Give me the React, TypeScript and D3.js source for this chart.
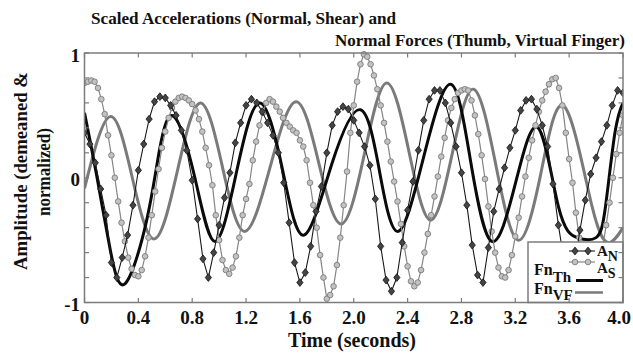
import React from 'react';
import * as d3 from 'd3';

// Sampled accelerations (demeaned & normalized)
const AN_STEP = 0.04; // seconds between A_N samples
const accelNormal = [
  0.36, 0.27, 0.12, -0.09, -0.3, -0.68, -0.8, -0.64, -0.46, -0.22, 0.06, 0.27, 0.47, 0.61, 0.65, 0.64, 0.58, 0.5, 0.38, 0.22, -0.02, -0.33, -0.65, -0.8, -0.6,
  -0.38, -0.16, 0.04, 0.28, 0.44, 0.58, 0.63, 0.6, 0.53, 0.44, 0.34, 0.2, -0.04, -0.36, -0.68, -0.84, -0.76, -0.55, -0.27, -0.07, 0.2, 0.42, 0.53, 0.57, 0.55,
  0.46, 0.36, 0.25, 0.1, -0.17, -0.55, -0.82, -0.91, -0.8, -0.52, -0.26, -0.03, 0.22, 0.46, 0.63, 0.7, 0.7, 0.6, 0.44, 0.25, 0.04, -0.22, -0.54, -0.78, -0.84,
  -0.56, -0.27, -0.09, 0.08, 0.24, 0.38, 0.54, 0.62, 0.63, 0.55, 0.42, 0.25, -0.05, -0.38, -0.65, -0.8, -0.7, -0.42, -0.18, 0.03, 0.16, 0.29, 0.42, 0.58, 0.7,
  0.68,
];

const AS_STEP = 0.025; // seconds between A_S samples
const accelShear = [
  0.76, 0.77, 0.78, 0.77, 0.72, 0.63, 0.51, 0.34, 0.18, 0.0,
  -0.19, -0.36, -0.51, -0.64, -0.73, -0.78, -0.79, -0.74, -0.63, -0.48,
  -0.3, -0.11, 0.07, 0.24, 0.37, 0.48, 0.56, 0.61, 0.64, 0.65,
  0.64, 0.62, 0.59, 0.54, 0.47, 0.37, 0.24, 0.1, -0.06, -0.3,
  -0.5, -0.66, -0.74, -0.77, -0.72, -0.63, -0.48, -0.3, -0.17, -0.05,
  0.14, 0.29, 0.42, 0.52, 0.6, 0.63, 0.61, 0.57, 0.53, 0.48,
  0.44, 0.41, 0.38, 0.36, 0.3, 0.25, 0.14, -0.04, -0.22, -0.4,
  -0.62, -0.8, -0.97, -0.94, -0.87, -0.7, -0.48, -0.22, 0.05, 0.36,
  0.58, 0.77, 0.91, 0.99, 0.97, 0.91, 0.82, 0.71, 0.58, 0.44,
  0.29, 0.13, -0.03, -0.19, -0.37, -0.55, -0.71, -0.83, -0.87, -0.84,
  -0.74, -0.6, -0.45, -0.3, -0.15, 0.01, 0.17, 0.32, 0.46, 0.56,
  0.63, 0.68, 0.7, 0.71, 0.7, 0.62, 0.5, 0.35, 0.18, -0.01,
  -0.23, -0.43, -0.6, -0.72, -0.79, -0.8, -0.74, -0.62, -0.47, -0.32,
  -0.15, 0.01, 0.16, 0.3, 0.42, 0.53, 0.62, 0.69, 0.75, 0.79,
  0.8, 0.72, 0.58, 0.36, 0.15, -0.04, -0.28, -0.48, -0.64, -0.75,
  -0.81, -0.82, -0.79, -0.7, -0.55, -0.38, -0.2, 0.0, 0.19, 0.36,
  0.5,
];

// Normal forces [time, value]
const forceThumb: [number, number][] = [
  [0, 0.52], [0.09, 0.02], [0.19, -0.57], [0.3, -0.85], [0.46, -0.35], [0.56, 0.24], [0.665, 0.49],
  [0.82, 0.0], [0.97, -0.51], [1.13, 0.05], [1.3, 0.6], [1.47, 0.07], [1.63, -0.46], [1.84, 0.12],
  [2.05, 0.545], [2.19, 0.06], [2.33, -0.43], [2.52, 0.17], [2.72, 0.75], [2.87, 0.12], [3.025, -0.51],
  [3.2, -0.05], [3.37, 0.4], [3.52, -0.23], [3.66, -0.48], [3.8, -0.48], [3.87, -0.23], [3.94, 0.36], [4.0, 0.6],
];

const forceVirtual: [number, number][] = [
  [0, -0.085], [0.19, 0.49], [0.355, 0.0], [0.52, -0.49], [0.69, 0.055], [0.86, 0.6], [1.025, 0.085],
  [1.19, -0.43], [1.38, 0.09], [1.57, 0.61], [1.74, 0.12], [1.91, -0.37], [2.08, 0.195], [2.245, 0.76],
  [2.41, 0.21], [2.57, -0.34], [2.73, 0.185], [2.89, 0.71], [3.055, 0.105], [3.22, -0.5], [3.39, 0.035],
  [3.565, 0.57], [3.77, -0.23], [3.9, -0.52], [4.0, -0.4],
];

const titleLines = ['Scaled Accelerations (Normal, Shear) and', 'Normal Forces (Thumb, Virtual Finger)'];
const xTickValues = [0, 0.4, 0.8, 1.2, 1.6, 2.0, 2.4, 2.8, 3.2, 3.6, 4.0];
const yTickValues = [-1, -0.8, -0.6, -0.4, -0.2, 0, 0.2, 0.4, 0.6, 0.8, 1];
const yLabelValues = [-1, 0, 1];
const xAxisTitle = 'Time (seconds)';
const yAxisTitle = ['Amplitude (demeaned &', 'normalized)'];

const FONT = '"Liberation Serif", "Times New Roman", serif';
const FRAME = '#7c7c7c';
// marker glyph for A_N (a slim diamond)
const DIAMOND = 'M0,-3.9L3.1,0L0,3.9L-3.1,0Z';

export default function App() {
  const plot = { left: 84.5, right: 623, top: 53, bottom: 302.5 };
  const x = d3.scaleLinear().domain([0, 4]).range([plot.left, plot.right]);
  const y = d3.scaleLinear().domain([-1, 1]).range([plot.bottom, plot.top]);

  const anPts: [number, number][] = accelNormal.map((v, i) => [i * AN_STEP, v]);
  const asPts: [number, number][] = accelShear.map((v, i) => [i * AS_STEP, v]);

  const straight = d3.line<[number, number]>().x(d => x(d[0])).y(d => y(d[1]));
  const smooth = d3.line<[number, number]>().x(d => x(d[0])).y(d => y(d[1])).curve(d3.curveNatural);

  const tickLen = 4.5;
  const fmtX = (v: number) => (v === 0 ? '0' : d3.format('.1f')(v));

  // legend layout
  const lg = { x: 528, y: 242 };

  return (
    <svg width={633} height={354} style={{ position: 'absolute', left: 0, top: 0, background: '#fff' }}
      fontFamily={FONT} fontWeight="bold">
      <defs>
        <clipPath id="plot-clip">
          <rect x={plot.left} y={plot.top - 3} width={plot.right - plot.left} height={plot.bottom - plot.top + 3} />
        </clipPath>
      </defs>

      {/* title */}
      <text x={91} y={24} fontSize={17} textLength={305} lengthAdjust="spacingAndGlyphs" fill="#111">{titleLines[0]}</text>
      <text x={335} y={46} fontSize={17} textLength={290} lengthAdjust="spacingAndGlyphs" fill="#111">{titleLines[1]}</text>

      {/* series */}
      <g clipPath="url(#plot-clip)">
        <path d={smooth(forceVirtual) || ''} fill="none" stroke="#7a7a7a" strokeWidth={3} />
        <path d={smooth(forceThumb) || ''} fill="none" stroke="#0a0a0a" strokeWidth={3} />
        <path d={straight(asPts) || ''} fill="none" stroke="#858585" strokeWidth={1.2} />
        {asPts.map((p, i) => (
          <circle key={'s' + i} cx={x(p[0])} cy={y(p[1])} r={2.8} fill="#c2c2c2" stroke="#7a7a7a" strokeWidth={0.9} />
        ))}
        <path d={straight(anPts) || ''} fill="none" stroke="#1a1a1a" strokeWidth={1.1} />
        {anPts.map((p, i) => (
          <path key={'n' + i} d={DIAMOND} transform={`translate(${x(p[0])},${y(p[1])})`} fill="#444" stroke="#111" strokeWidth={0.8} />
        ))}
      </g>

      {/* legend */}
      <g>
        <rect x={lg.x} y={lg.y} width={plot.right - lg.x} height={plot.bottom - lg.y} fill="#fff" stroke={FRAME} strokeWidth={1.5} />
        <line x1={569} x2={595} y1={251} y2={251} stroke="#1a1a1a" strokeWidth={1.1} />
        {[575, 588].map(cx => (
          <path key={'ld' + cx} d={DIAMOND} transform={`translate(${cx},251)`} fill="#444" stroke="#111" strokeWidth={0.8} />
        ))}
        <text x={597} y={256} fontSize={15} fill="#111">A<tspan dy={5} fontSize={14}>N</tspan></text>
        <line x1={569} x2={595} y1={262} y2={262} stroke="#858585" strokeWidth={1.2} />
        {[575, 588].map(cx => (
          <circle key={'lc' + cx} cx={cx} cy={262} r={2.8} fill="#c2c2c2" stroke="#7a7a7a" strokeWidth={0.9} />
        ))}
        <text x={597} y={273} fontSize={15} fill="#111">A<tspan dy={5} fontSize={14}>S</tspan></text>
        <text x={534} y={275} fontSize={16} fill="#111">Fn<tspan dy={7} fontSize={15}>Th</tspan></text>
        <line x1={576} x2={603} y1={280.5} y2={280.5} stroke="#0a0a0a" strokeWidth={3} />
        <text x={534} y={294} fontSize={16} fill="#111">Fn<tspan dy={6} fontSize={15}>VF</tspan></text>
        <line x1={575} x2={603} y1={292.5} y2={292.5} stroke="#7a7a7a" strokeWidth={2.5} />
      </g>

      {/* frame and ticks */}
      <rect x={plot.left} y={plot.top} width={plot.right - plot.left} height={plot.bottom - plot.top}
        fill="none" stroke={FRAME} strokeWidth={1.5} />
      {xTickValues.map((v, i) => (
        <g key={'xt' + v}>
          <line x1={x(v)} x2={x(v)} y1={plot.bottom} y2={plot.bottom - tickLen} stroke={FRAME} strokeWidth={1.2} />
          <line x1={x(v)} x2={x(v)} y1={plot.top} y2={plot.top + tickLen} stroke={FRAME} strokeWidth={1.2} />
          <text x={i === xTickValues.length - 1 ? 631 : x(v)} y={324} fontSize={19}
            textAnchor={i === xTickValues.length - 1 ? 'end' : 'middle'} fill="#111">{fmtX(v)}</text>
        </g>
      ))}
      {yTickValues.map(v => (
        <g key={'yt' + v}>
          <line x1={plot.left} x2={plot.left + tickLen} y1={y(v)} y2={y(v)} stroke={FRAME} strokeWidth={1.2} />
          <line x1={plot.right} x2={plot.right - tickLen} y1={y(v)} y2={y(v)} stroke={FRAME} strokeWidth={1.2} />
        </g>
      ))}
      {yLabelValues.map(v => (
        <text key={'yl' + v} x={80} y={y(v) + 2} fontSize={19} textAnchor="end" dominantBaseline="central" fill="#111">{v}</text>
      ))}

      {/* axis titles */}
      <text x={352} y={347} fontSize={20} textAnchor="middle" fill="#111">{xAxisTitle}</text>
      <text transform="translate(20,171) rotate(-90)" fontSize={19} textAnchor="middle" dominantBaseline="central"
        textLength={198} lengthAdjust="spacingAndGlyphs" fill="#111">{yAxisTitle[0]}</text>
      <text transform="translate(43.5,172) rotate(-90)" fontSize={19} textAnchor="middle" dominantBaseline="central"
        textLength={88} lengthAdjust="spacingAndGlyphs" fill="#111">{yAxisTitle[1]}</text>
    </svg>
  );
}
